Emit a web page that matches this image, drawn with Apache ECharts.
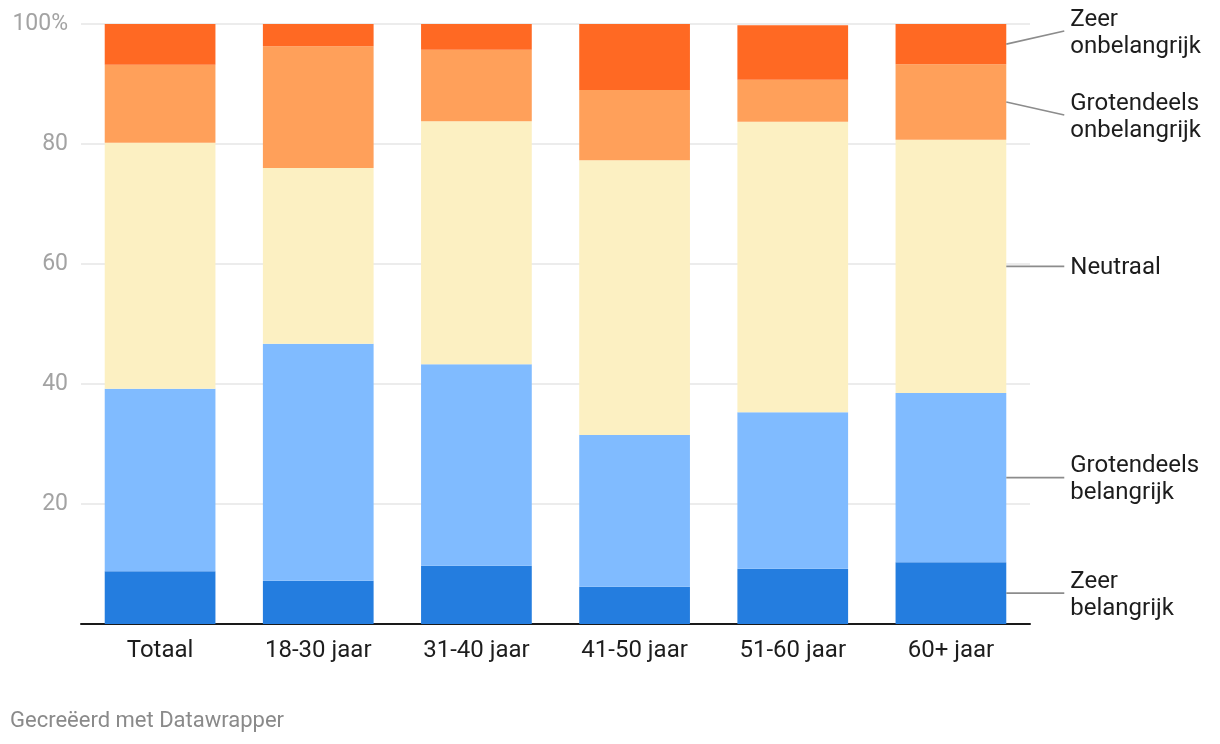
<!DOCTYPE html>
<html>
<head>
<meta charset="utf-8">
<script src="https://cdn.jsdelivr.net/npm/echarts@6/dist/echarts.min.js"></script>
<style>
html,body{margin:0;padding:0;background:#fff;}
#chart{width:1220px;height:744px;}
</style>
</head>
<body>
<div id="chart"></div>
<script>
var categories = ['Totaal', '18-30 jaar', '31-40 jaar', '41-50 jaar', '51-60 jaar', '60+ jaar'];
var seriesNames = ['Zeer belangrijk', 'Grotendeels belangrijk', 'Neutraal', 'Grotendeels onbelangrijk', 'Zeer onbelangrijk'];
var labelTexts = ['Zeer\nbelangrijk', 'Grotendeels\nbelangrijk', 'Neutraal', 'Grotendeels\nonbelangrijk', 'Zeer\nonbelangrijk'];
var zeerBelangrijk        = [8.8, 7.2, 9.7, 6.2, 9.2, 10.3];
var grotendeelsBelangrijk = [30.4, 39.5, 33.6, 25.3, 26.1, 28.2];
var neutraal              = [41.0, 29.3, 40.5, 45.8, 48.4, 42.2];
var grotendeelsOnbelangrijk = [13.0, 20.3, 11.9, 11.7, 7.0, 12.6];
var zeerOnbelangrijk      = [6.8, 3.7, 4.3, 11.0, 9.1, 6.7];
var yTicks = [0, 20, 40, 60, 80, 100];
var colors = ['#247ddf', '#80bbff', '#fcf0c2', '#ffa05a', '#ff6923'];

var allSeries = [zeerBelangrijk, grotendeelsBelangrijk, neutraal, grotendeelsOnbelangrijk, zeerOnbelangrijk];

// label anchors for the last category (segment midpoints, then spaced apart)
var lastIdx = categories.length - 1;
var mids = [], cum = 0;
allSeries.forEach(function (s) { mids.push(cum + s[lastIdx] / 2); cum += s[lastIdx]; });
var labelPos = mids.slice();
var minGap = 14;
for (var iter = 0; iter < 10; iter++) {
  for (var i = 0; i < labelPos.length - 1; i++) {
    var gap = labelPos[i + 1] - labelPos[i];
    if (gap < minGap) {
      var d = (minGap - gap) / 2;
      labelPos[i] -= d; labelPos[i + 1] += d;
    }
  }
}
var labelData = mids.map(function (m, i) { return [lastIdx, m, labelPos[i]]; });

var fontFam = 'Roboto, "Noto Sans", sans-serif';
var barGapRatio = 0.30;

var series = allSeries.map(function (s, i) {
  return {
    name: seriesNames[i],
    type: 'bar',
    stack: 'total',
    data: s,
    barCategoryGap: '30%',
    itemStyle: { color: colors[i] },
    emphasis: { disabled: true }
  };
});
series.push({
  type: 'custom',
  data: labelData,
  silent: true,
  clip: false,
  z: 10,
  renderItem: function (params, api) {
    var p = api.coord([api.value(0), api.value(1)]);
    var q = api.coord([api.value(0), api.value(2)]);
    var half = api.size([1, 0])[0] * (1 - barGapRatio) / 2;
    var x0 = p[0] + half;
    return {
      type: 'group',
      children: [
        { type: 'line', shape: { x1: x0, y1: p[1], x2: x0 + 58, y2: q[1] },
          style: { stroke: '#8c8c8c', lineWidth: 1.6 } },
        { type: 'text', x: x0 + 64, y: q[1] + 2,
          style: { text: labelTexts[params.dataIndex], fill: '#1d1d1d', font: '24px ' + fontFam,
                   textAlign: 'left', textVerticalAlign: 'middle', lineHeight: 27 } }
      ]
    };
  }
});

var chart = echarts.init(document.getElementById('chart'));
chart.setOption({
  animation: false,
  backgroundColor: '#fff',
  textStyle: { fontFamily: fontFam },
  grid: { left: 81, right: 190, top: 24, bottom: 120, containLabel: false },
  xAxis: {
    type: 'category',
    data: categories,
    axisLine: { show: true, lineStyle: { color: '#1a1a1a', width: 2 } },
    axisTick: { show: false },
    axisLabel: { color: '#1d1d1d', fontSize: 24, margin: 15, fontFamily: fontFam }
  },
  yAxis: {
    type: 'value',
    min: yTicks[0], max: yTicks[yTicks.length - 1], interval: 20,
    axisLine: { show: false },
    axisTick: { show: false },
    splitLine: { lineStyle: { color: '#e6e6e6', width: 1.5 } },
    axisLabel: {
      color: '#a3a3a3', fontSize: 23, margin: 13, fontFamily: fontFam,
      formatter: function (v) { return v === 100 ? '100%' : (v === 0 ? '' : String(v)); }
    }
  },
  graphic: [{
    type: 'text', left: 10, top: 710,
    style: { text: 'Gecreëerd met Datawrapper', fill: '#8a8a8a', font: '22px ' + fontFam }
  }],
  series: series
});
</script>
</body>
</html>
